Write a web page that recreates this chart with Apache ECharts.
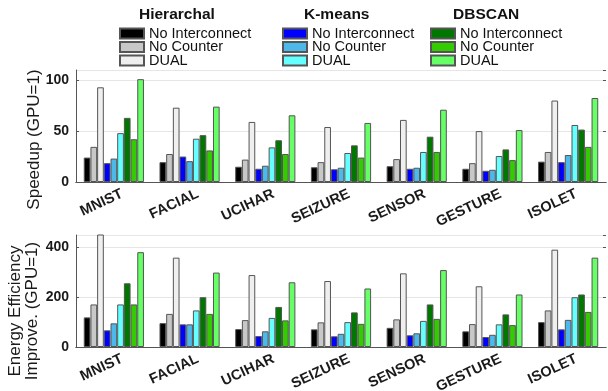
<!DOCTYPE html>
<html>
<head>
<meta charset="utf-8">
<script src="https://cdn.jsdelivr.net/npm/echarts@6/dist/echarts.min.js"></script>
<style>
  html, body { margin: 0; padding: 0; background: #fff; }
  #chart { width: 608px; height: 391px; }
</style>
</head>
<body>
<div id="chart"></div>
<script>
const categories = ['MNIST', 'FACIAL', 'UCIHAR', 'SEIZURE', 'SENSOR', 'GESTURE', 'ISOLET'];
const groups = ['Hierarchal', 'K-means', 'DBSCAN'];
const variants = ['No Interconnect', 'No Counter', 'DUAL'];

// speedup over GPU
const speedHierNoInter = [24, 19.5, 15, 14.5, 15.5, 13, 20];
const speedHierNoCounter = [34.5, 27.5, 22, 19.5, 22.5, 18.5, 29.5];
const speedHierDual = [93, 73, 59, 54, 61, 50, 80];
const speedKmNoInter = [18.5, 25, 13, 12.5, 13, 11, 19.5];
const speedKmNoCounter = [23, 20.5, 16, 14, 14, 12, 26.5];
const speedKmDual = [48, 42.5, 34, 28.5, 29.5, 25.5, 56];
const speedDbNoInter = [63, 46, 41, 36, 44.5, 32, 51.5];
const speedDbNoCounter = [42, 31, 27.5, 24, 29.5, 21.5, 34.5];
const speedDbDual = [101, 74, 65.5, 58, 71, 51, 82.5];

// energy efficiency improvement over GPU
const energyHierNoInter = [119, 96, 72, 71, 77, 63, 100];
const energyHierNoCounter = [171, 133, 108, 99, 111, 92, 147];
const energyHierDual = [500, 359, 289, 265, 296, 244, 391];
const energyKmNoInter = [67, 91, 44, 43, 47, 40, 71];
const energyKmNoCounter = [95, 91, 63, 53, 55, 49, 109];
const energyKmDual = [171, 147, 117, 100, 105, 91, 200];
const energyDbNoInter = [256, 200, 161, 139, 171, 131, 211];
const energyDbNoCounter = [171, 133, 107, 93, 113, 88, 141];
const energyDbDual = [381, 299, 260, 235, 309, 211, 359];

const speedData = [
  [speedHierNoInter, speedHierNoCounter, speedHierDual],
  [speedKmNoInter, speedKmNoCounter, speedKmDual],
  [speedDbNoInter, speedDbNoCounter, speedDbDual]
];
const energyData = [
  [energyHierNoInter, energyHierNoCounter, energyHierDual],
  [energyKmNoInter, energyKmNoCounter, energyKmDual],
  [energyDbNoInter, energyDbNoCounter, energyDbDual]
];

const colors = [
  ['#000000', '#c8c8c8', '#efefef'],
  ['#0000ff', '#4db8ea', '#66ffff'],
  ['#007800', '#33cc00', '#66ff66']
];

const FONT = 'Liberation Sans, Arial, sans-serif';
const chart = echarts.init(document.getElementById('chart'));

const series = [];
[speedData, energyData].forEach((data, gi) => {
  groups.forEach((g, i) => {
    variants.forEach((v, j) => {
      series.push({
        name: g + '|' + v,
        type: 'bar',
        xAxisIndex: gi * 2,
        yAxisIndex: gi * 2,
        data: data[i][j],
        barGap: '0%',
        barCategoryGap: '20.5%',
        clip: true,
        itemStyle: { color: colors[i][j], borderColor: '#555', borderWidth: 1 }
      });
    });
  });
});

const xAxisBase = (gridIndex) => ([
  {
    type: 'category',
    gridIndex: gridIndex,
    data: categories,
    axisLine: { lineStyle: { color: '#555' } },
    axisTick: { inside: true, alignWithLabel: true, length: 4, lineStyle: { color: '#555' } },
    axisLabel: {
      interval: 0, rotate: 25, margin: 15, padding: [0, -9, 0, 0],
      fontFamily: FONT, fontSize: 14.5, fontWeight: 'bold', color: '#1a1a1a'
    }
  },
  {
    type: 'category',
    gridIndex: gridIndex,
    position: 'top',
    data: categories,
    axisLine: { lineStyle: { color: '#555' } },
    axisTick: { inside: true, alignWithLabel: true, length: 4, lineStyle: { color: '#555' } },
    axisLabel: { show: false }
  }
]);

const yAxisBase = (gridIndex, max, interval, name, gap, pad, lineH) => ([
  {
    type: 'value',
    gridIndex: gridIndex,
    min: 0, max: max, interval: interval,
    name: name,
    nameLocation: 'middle',
    nameGap: gap,
    nameMoveOverlap: false,
    nameTextStyle: {
      fontFamily: FONT, fontSize: 17, color: '#1a1a1a',
      lineHeight: lineH, padding: pad
    },
    axisLine: { show: true, lineStyle: { color: '#555' } },
    axisTick: { show: true, inside: true, length: 3, lineStyle: { color: '#555' } },
    axisLabel: {
      showMaxLabel: false, margin: 7,
      fontFamily: FONT, fontSize: 14, fontWeight: 'bold', color: '#1a1a1a'
    },
    splitLine: { lineStyle: { color: '#e6e6e6' } }
  },
  {
    type: 'value',
    gridIndex: gridIndex,
    position: 'right',
    min: 0, max: max, interval: interval,
    axisLine: { show: false },
    axisTick: { show: true, inside: true, length: 3, lineStyle: { color: '#555' } },
    axisLabel: { show: false },
    splitLine: { show: false }
  }
]);

const legendX = [119, 282, 430];
const titleX = [139, 304, 453];

chart.setOption({
  animation: false,
  textStyle: { fontFamily: FONT },
  grid: [
    { left: 76, right: 2, top: 70, height: 112, outerBoundsMode: 'none' },
    { left: 76, right: 2, top: 235, height: 112, outerBoundsMode: 'none' }
  ],
  graphic: groups.map((g, i) => ({
    type: 'text',
    left: titleX[i], top: 7,
    style: {
      text: g,
      font: 'bold 15.5px ' + FONT, fill: '#111'
    }
  })),
  legend: groups.map((g, i) => ({
    data: variants.map(v => g + '|' + v),
    orient: 'vertical',
    left: legendX[i], top: 26,
    padding: 0,
    itemWidth: 24, itemHeight: 10, itemGap: -1.5,
    icon: 'rect',
    selectedMode: false,
    formatter: name => name.split('|')[1],
    textStyle: { fontFamily: FONT, fontSize: 14.5, color: '#111', lineHeight: 12.5 }
  })),
  xAxis: [...xAxisBase(0), ...xAxisBase(1)],
  yAxis: [
    ...yAxisBase(0, 110, 50, 'Speedup (GPU=1)', 33, [0, 27, 0, 0], 17),
    ...yAxisBase(1, 450, 200, 'Energy Efficiency\nImprove. (GPU=1)', 35, [0, 40, 0, 0], 17)
  ],
  series: series
});
</script>
</body>
</html>
